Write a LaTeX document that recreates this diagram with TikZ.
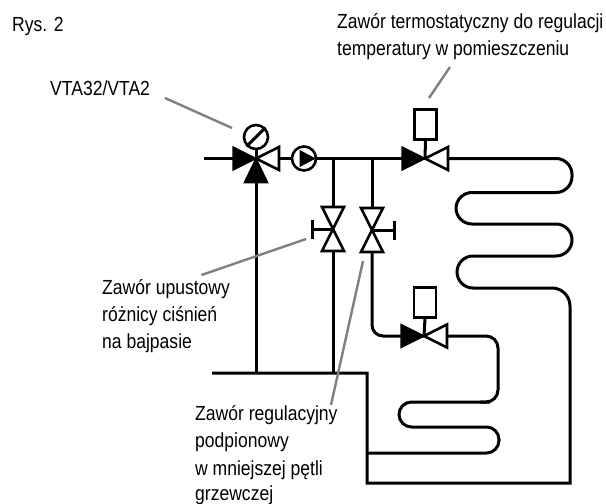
\documentclass[tikz,border=0pt]{standalone}
\usepackage{fontspec}
\setmainfont[FakeStretch=0.86]{Liberation Sans}
\tikzset{
  pipe/.style={line width=3pt,black,line join=miter},
  sym/.style={line width=2.6pt,black,fill=white,line join=miter},
  solid tri/.style={line width=1.5pt,black,fill=black,line join=miter},
  leader/.style={line width=2.4pt,black!50},
  lbl/.style={font=\fontsize{20.4}{24}\selectfont,inner sep=0pt,anchor=base west}
}
\newcommand{\hvalve}[3]{% name, x, y
  \coordinate (#1) at (#2,#3);
  \draw[solid tri] (#2,#3) -- (#2-23,#3-11.5) -- (#2-23,#3+11.5) -- cycle;
  \draw[sym] (#2,#3) -- (#2+23,#3-11.5) -- (#2+23,#3+11.5) -- cycle;
  \coordinate (#1L) at (#2-23,#3); \coordinate (#1R) at (#2+23,#3);
}
\newcommand{\vvalve}[4]{% name, x, y, handle dx
  \coordinate (#1) at (#2,#3);
  \draw[sym] (#2,#3) -- (#2-11,#3-22) -- (#2+11,#3-22) -- cycle;
  \draw[sym] (#2,#3) -- (#2-11,#3+22) -- (#2+11,#3+22) -- cycle;
  \coordinate (#1T) at (#2,#3-22); \coordinate (#1B) at (#2,#3+22);
  \draw[pipe] (#2,#3) -- (#2+#4,#3);
  \draw[pipe] (#2+#4,#3-9.5) -- (#2+#4,#3+9.5);
}
\begin{document}
\begin{tikzpicture}[x=1pt,y=-1pt]
\useasboundingbox (0,0) rectangle (606,504);
\fill[white] (0,0) rectangle (606,504);

% junctions
\coordinate (mix) at (256,158.5);
\coordinate (pump) at (304,158.5);
\coordinate (t1) at (333,158.5);
\coordinate (t2) at (372,158.5);
\coordinate (in) at (204,158.5);
\coordinate (ret) at (256,373);
\coordinate (retL) at (212,373);
\coordinate (retT) at (333,373);
\coordinate (retC) at (367,373);

% pipes
\draw[pipe] (in) -- (mix);
\draw[pipe] (mix) -- (pump);
\draw[pipe] (pump) -- (425,158.5);
\draw[pipe] (t1) -- (333,207);
\draw[pipe] (t2) -- (372,207);
\draw[pipe] (mix) -- (ret);
\draw[pipe] (333,252) -- (retT);
% return and large loop
\draw[pipe] (retL) -- (retC) -- (367,483) -- (570,483)
  [rounded corners=18pt] -- (570,288) -- (480,288);
\draw[pipe,rounded corners=16pt] (480,288) -- (457,288) -- (457,256) -- (572,256) -- (572,224) -- (456,224) -- (456,192.5) -- (572,192.5) -- (572,158.5) -- (448,158.5);
% small loop
\draw[pipe,rounded corners=11pt] (372,252) -- (372,336) -- (424,336);
\draw[pipe,rounded corners=12pt] (447,336) -- (498,336) -- (498,402) -- (480,402);
\draw[pipe,rounded corners=12.5pt] (490,402) -- (399,402) -- (399,427) -- (499,427) -- (499,453) -- (367,453);

% three-way valve
\draw[solid tri] (mix) -- (233,147) -- (233,170) -- cycle;
\draw[sym] (mix) -- (279,147) -- (279,170) -- cycle;
\draw[solid tri] (mix) -- (244.5,182.5) -- (267.5,182.5) -- cycle;
\draw[pipe] (mix) -- (256,149);
\node[circle,draw,line width=2.6pt,minimum size=24pt,inner sep=0pt,fill=white] (dial) at (256,137) {};
\draw[pipe] (dial.south west) -- (dial.north east);

% pump
\node[circle,draw,line width=2.6pt,minimum size=24pt,inner sep=0pt,fill=white] (pumpc) at (pump) {};
\draw[solid tri,line width=.6pt] (300,150.5) -- (315,158.5) -- (300,166.5) -- cycle;

% upper thermostatic valve
\hvalve{v1}{425}{158.5}
\node[draw,line width=2.6pt,fill=white,minimum width=22pt,minimum height=30pt,inner sep=0pt] (act1) at (425.5,124.5) {};
\draw[pipe] (v1) -- (act1.south);

% lower thermostatic valve
\hvalve{v2}{424}{336}
\node[draw,line width=2.6pt,fill=white,minimum width=22pt,minimum height=30pt,inner sep=0pt] (act2) at (425,302.5) {};
\draw[pipe] (v2) -- (act2.south);

% bypass valves
\vvalve{b1}{333}{229}{-21}
\vvalve{b2}{372}{230}{22}

% leaders
\coordinate (l0a) at (450,67); \coordinate (l0b) at (429,98);
\coordinate (l1a) at (165,98); \coordinate (l1b) at (232,128);
\coordinate (l2a) at (201.5,275); \coordinate (l2b) at (306,239);
\coordinate (l3a) at (331,405); \coordinate (l3b) at (363,261);
\draw[leader] (l0a) -- (l0b);
\draw[leader] (l1a) -- (l1b);
\draw[leader] (l2a) -- (l2b);
\draw[leader] (l3a) -- (l3b);

% labels
\node[lbl] (t0) at (12,31) {Rys. 2};
\node[lbl] (t1a) at (337,28) {Zawór termostatyczny do regulacji};
\node[lbl] (t1b) at (337,55) {temperatury w pomieszczeniu};
\node[lbl] (t2a) at (50,95) {VTA32/VTA2};
\node[lbl] (t3a) at (102,294) {Zawór upustowy};
\node[lbl] (t3b) at (102,321) {różnicy ciśnień};
\node[lbl] (t3c) at (102,348) {na bajpasie};
\node[lbl] (t4a) at (195,420) {Zawór regulacyjny};
\node[lbl] (t4b) at (195,447) {podpionowy};
\node[lbl] (t4c) at (195,475) {w mniejszej pętli};
\node[lbl] (t4d) at (195,500) {grzewczej};
\end{tikzpicture}
\end{document}
